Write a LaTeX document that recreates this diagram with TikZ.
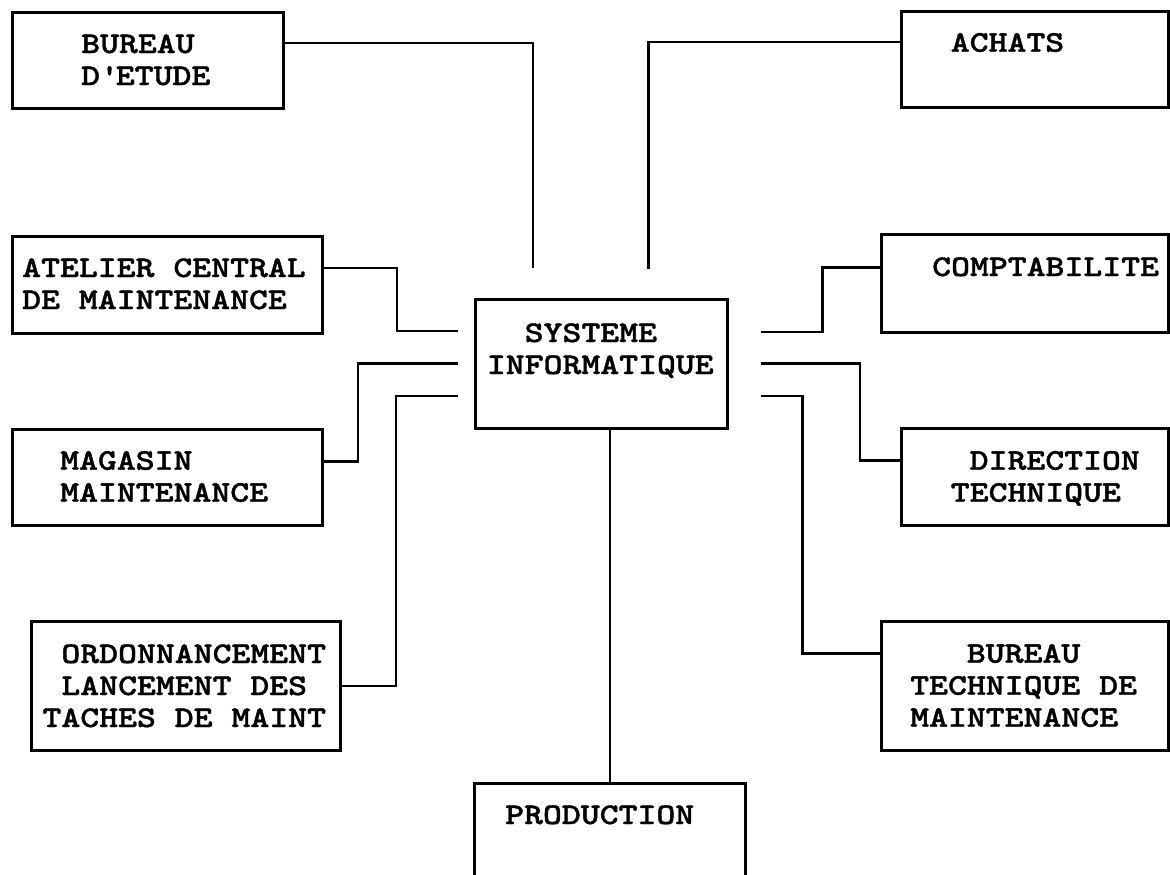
\documentclass[tikz,border=0pt]{standalone}
\usepackage{fontspec}
\newfontfamily\boitefont{lmmonolt10-bold.otf}[FakeStretch=1.2, FakeBold=1.2]
\usetikzlibrary{positioning, calc}

\begin{document}
\begin{tikzpicture}[x=1pt, y=-1pt,
	boite/.style={draw, line width=2.6pt, rectangle, anchor=north west, inner sep=0pt},
	texte/.style={anchor=base west, align=left, inner sep=0pt,
		font=\boitefont\fontsize{30}{32}\selectfont},
	lien/.style={line width=2.4pt}]
	\useasboundingbox (0,0) rectangle (1170,875);

	% Boites
	\node[boite, minimum width=271pt, minimum height=96pt] (etude) at (11,11) {};
	\node[boite, minimum width=267pt, minimum height=96pt] (achats) at (900,10) {};
	\node[boite, minimum width=310pt, minimum height=97pt] (atelier) at (11,235) {};
	\node[boite, minimum width=287pt, minimum height=98pt] (compta) at (880,233) {};
	\node[boite, minimum width=252pt, minimum height=129pt] (sys) at (474,298) {};
	\node[boite, minimum width=310pt, minimum height=96pt] (magasin) at (11,428) {};
	\node[boite, minimum width=267pt, minimum height=97pt] (direction) at (900,427) {};
	\node[boite, minimum width=309pt, minimum height=129pt] (ordo) at (30,620) {};
	\node[boite, minimum width=287pt, minimum height=129pt] (btm) at (880,620) {};
	\node[boite, minimum width=271pt, minimum height=110pt] (prod) at (473,782) {};

	% Textes (ligne de base de la derniere ligne)
	\node[texte] (t-etude) at (81,85) {BUREAU\\D\textquotesingle ETUDE};
	\node[texte] (t-achats) at (950.6,51.7) {ACHATS};
	\node[texte] (t-atelier) at (22,309) {ATELIER CENTRAL\\DE MAINTENANCE};
	\node[texte] (t-compta) at (932,276) {COMPTABILITE};
	\node[texte] (t-sys) at (486.7,374) {\ \ SYSTEME\\INFORMATIQUE};
	\node[texte] (t-magasin) at (60,501.7) {MAGASIN\\MAINTENANCE};
	\node[texte] (t-direction) at (950.6,501.7) {\ DIRECTION\\TECHNIQUE};
	\node[texte] (t-ordo) at (42.3,727) {\ ORDONNANCEMENT\\\ LANCEMENT DES\\TACHES DE MAINT};
	\node[texte] (t-btm) at (910,726.7) {\ \ \ BUREAU\\TECHNIQUE DE\\MAINTENANCE};
	\node[texte] (t-prod) at (505,824) {PRODUCTION};

	% Liaisons
	\coordinate (sA) at (533,268);
	\coordinate (sB) at (648.5,269);
	\coordinate (sC) at (458,331);
	\coordinate (sD) at (458,363.3);
	\coordinate (sE) at (458,395.7);
	\coordinate (sF) at (760.6,331.7);
	\coordinate (sG) at (760.6,363.3);
	\coordinate (sH) at (760.6,396);

	\draw[lien] ([yshift=17.3pt]etude.east) -| (sA);
	\draw[lien] ([yshift=17pt]achats.west) -| (sB);
	\draw[lien] ([yshift=16.8pt]atelier.east) -| ([xshift=-61pt]sC) -- (sC);
	\draw[lien] (sD) -- ([xshift=-100pt]sD) |- ([yshift=16pt]magasin.east);
	\draw[lien] (sE) -- ([xshift=-62pt]sE) |- (ordo.east);
	\draw[lien] (sF) -- ([xshift=62pt]sF) |- ([yshift=16pt]compta.west);
	\draw[lien] (sG) -- ([xshift=99.4pt]sG) |- ([yshift=16.5pt]direction.west);
	\draw[lien] (sH) -- ([xshift=42pt]sH) |- ([yshift=32.5pt]btm.west);
	\draw[lien] (prod.north) -- (prod.north |- sys.south);
\end{tikzpicture}
\end{document}
